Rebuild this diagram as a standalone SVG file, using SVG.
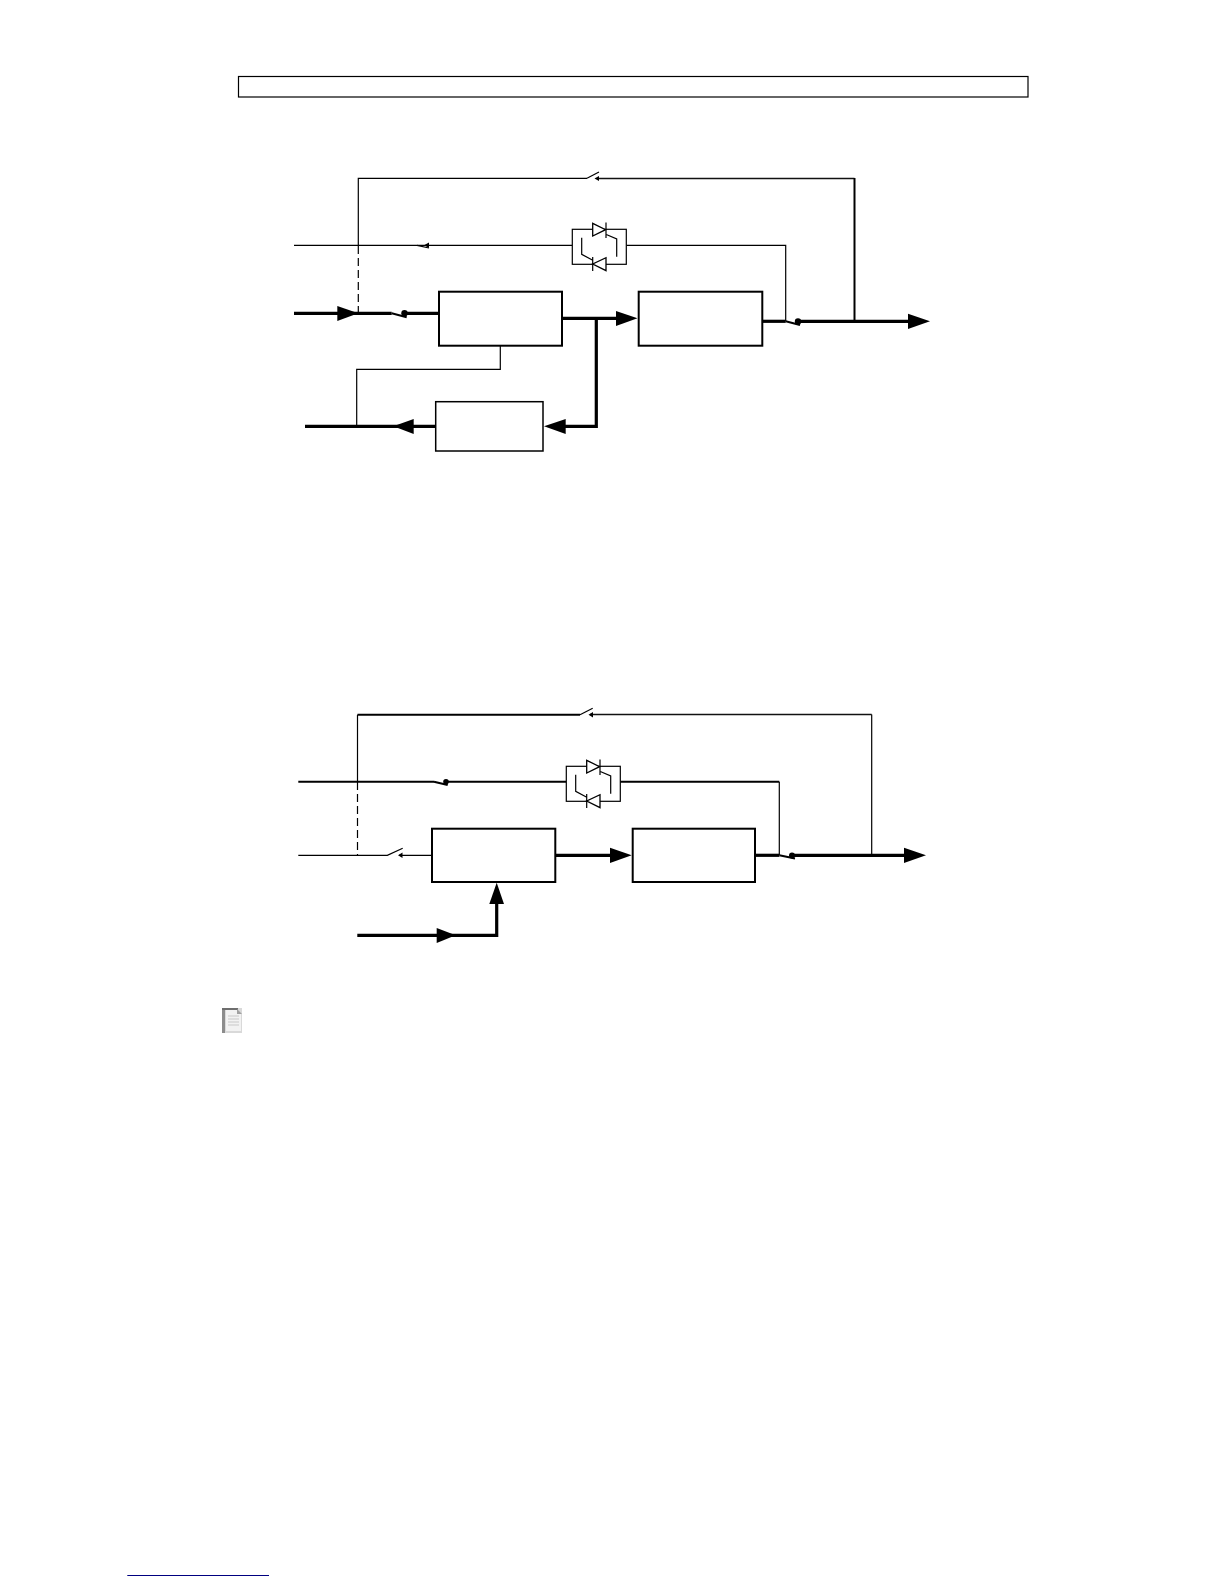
<svg xmlns="http://www.w3.org/2000/svg" width="1224" height="1584" viewBox="0 0 1224 1584">
<style>
.box{fill:#fff;stroke:#000;stroke-width:2}
.boxm{fill:#fff;stroke:#000;stroke-width:1.5}
.boxs{fill:#fff;stroke:#000;stroke-width:1.2}
.t1{fill:none;stroke:#000;stroke-width:1.2}
.t15{fill:none;stroke:#111;stroke-width:1.5}
.t2{fill:none;stroke:#000;stroke-width:2}
.t3{fill:none;stroke:#000;stroke-width:3.2}
.d{stroke-dasharray:8 4}
.a{fill:#000;stroke:none}
.tri{fill:#fff;stroke:#000;stroke-width:1.3}
</style>
<defs>
<g id="thy">
<rect class="boxs" x="572.3" y="229.3" width="54" height="35"/>
<path class="tri" d="M592.7 223.3V236L605.6 229.7Z"/>
<path class="t1" d="M606 222.6V238M605.7 234.3L616.7 239V256.7"/>
<path class="tri" d="M606 257.7V270.7L592.7 264Z"/>
<path class="t1" d="M592.7 257V271M581.7 237.7V254.3L592.3 260"/>
</g>
</defs>
<rect id="title-box" x="238.5" y="76.5" width="789.5" height="20.5" fill="#fff" stroke="#000" stroke-width="1.2"/>

<g id="connectors-1">
<path class="t1" d="M358.3 245.3V178.3H587"/>
<path class="t1" d="M587 178.3L599 172"/>
<path class="t15" d="M597 178.5H854.5"/>
<path class="t2" d="M854.5 178V321.3"/>
<path class="a" d="M594.5 178.5L599 176V181Z"/>
<path class="t1" d="M294 245.3H572.3M626.3 245.3H785.7V321.3"/>
<path class="t1" d="M417 245.3L429 248"/>
<path class="a" d="M424 245.3L429 242.5V248Z"/>
<path class="t1 d" d="M358.3 246V313"/>
<path class="t3" d="M294 313.3H391.7"/>
<path class="t2" d="M391.7 313.3L406.7 317.3"/>
<circle class="a" cx="404.5" cy="313.3" r="3.2"/>
<path class="t3" d="M404 313.3H439"/>
<path class="a" d="M337.3 306V321L358.3 313.3Z"/>
<path class="t3" d="M562 318.3H618"/>
<path class="a" d="M616 311V326L637.5 318.3Z"/>
<path class="t3" d="M596.3 318.3V426.3H560"/>
<path class="a" d="M565.7 419V434L544 426.3Z"/>
<path class="t3" d="M435.7 426.3H305"/>
<path class="a" d="M413.7 419V434L393.3 426.3Z"/>
<path class="t1" d="M500.3 346V369.3H356.7V426"/>
<path class="t3" d="M762.3 321.3H785.7"/>
<path class="t2" d="M785.7 321.3L800 325"/>
<circle class="a" cx="798" cy="321.5" r="3.2"/>
<path class="t3" d="M798 321.3H912"/>
<path class="a" d="M908 313.8V329L930 321.3Z"/>
</g>
<g id="node-rectifier-1"><rect class="box" x="439" y="291.7" width="123" height="54"/></g>
<g id="node-inverter-1"><rect class="box" x="638.7" y="291.7" width="123.6" height="54"/></g>
<g id="node-charger-1"><rect class="boxm" x="435.7" y="401.7" width="107.3" height="49.3"/></g>
<g id="node-bypass-1"><use href="#thy"/></g>

<g id="connectors-2">
<path class="t1" d="M357.5 782V714.7"/>
<path class="t2" d="M357.5 714.7H580"/>
<path class="t1" d="M580 714.7L592.7 708.3"/>
<path class="t15" d="M590 714.5H871.7"/>
<path class="a" d="M588.5 714.7L593 712V717.5Z"/>
<path class="t1" d="M871.7 714.5V855"/>
<path class="t2" d="M298.3 781.7H434M446 781.7H566.3M620 781.7H779.3"/>
<path class="t2" d="M434 781.7L447.7 785"/>
<circle class="a" cx="446" cy="781.7" r="2.8"/>
<path class="t1" d="M779.3 781.7V855"/>
<path class="t1 d" d="M357.5 782V855"/>
<path class="t1" d="M298.3 855.3H387.3L402.7 848.3"/>
<path class="t1" d="M399 855.3H432"/>
<path class="a" d="M398 855.3L402.5 852.5V858Z"/>
<path class="t3" d="M555.3 855.3H612"/>
<path class="a" d="M610 847.8V863L631.7 855.3Z"/>
<path class="t3" d="M755 855.3H779.3"/>
<path class="t2" d="M779.3 855.3L795 858.5"/>
<circle class="a" cx="792" cy="855.5" r="3"/>
<path class="t3" d="M792 855.3H906"/>
<path class="a" d="M904 847.8V863L926 855.3Z"/>
<path class="t3" d="M357.3 935.3H496.7V902"/>
<path class="a" d="M436.7 928V943L455.7 935.3Z"/>
<path class="a" d="M489.3 904H504L496.7 882.7Z"/>
</g>
<g id="node-rectifier-2"><rect class="box" x="432" y="828.7" width="123.3" height="53.3"/></g>
<g id="node-inverter-2"><rect class="box" x="632.7" y="828.7" width="122.3" height="53.3"/></g>
<g id="node-bypass-2"><use href="#thy" transform="translate(-6 537)"/></g>

<g id="icon">
<rect x="222" y="1008" width="20" height="25" fill="#d9d9d9"/>
<rect x="222" y="1008" width="3" height="25" fill="#8c8c8c"/>
<rect x="222" y="1008" width="16" height="2" fill="#6e6e6e"/>
<path d="M226 1010H237L241 1014V1031H226Z" fill="#f2f2f2"/>
<path d="M237 1009L242 1014H237Z" fill="#a0a0a0"/>
<path d="M228 1016H239M228 1019H239M228 1022H239M228 1025H239" stroke="#c8c8c8" stroke-width="1.2"/>
</g>
<path id="footer-rule" d="M127.3 1575.5H269" stroke="#000080" stroke-width="1.2"/>
</svg>
